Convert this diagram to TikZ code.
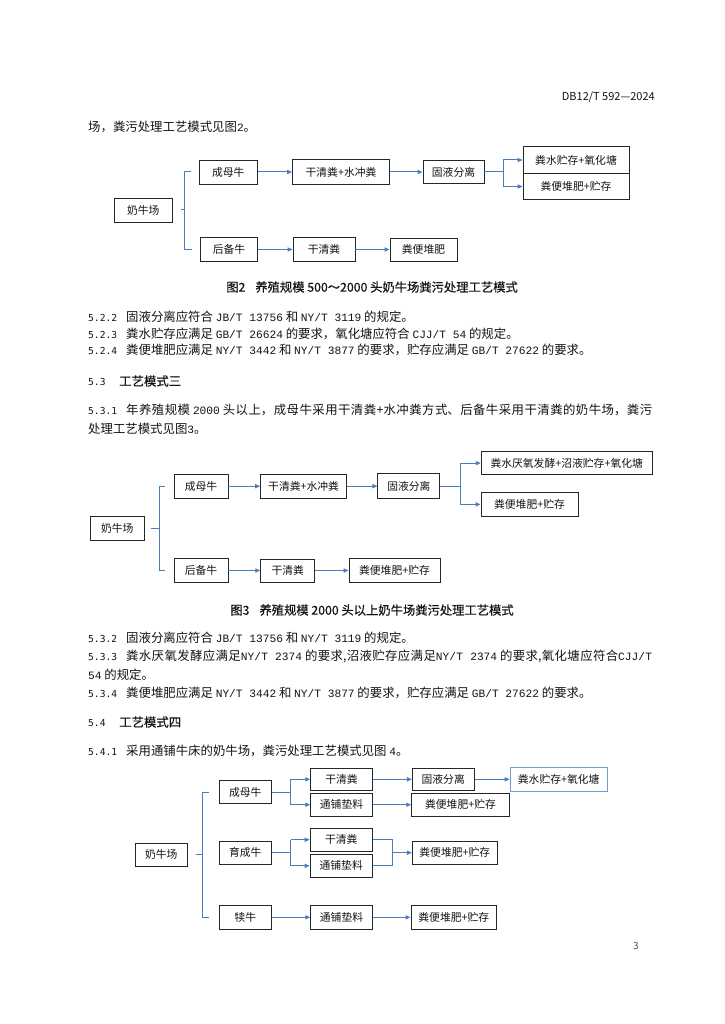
\documentclass[tikz,border=0pt]{standalone}
\usepackage{fontspec}
\setmainfont{Noto Sans CJK SC}
\newfontfamily\hei[FakeBold=0.4]{Noto Sans CJK SC}
\newfontfamily\latf{Liberation Mono}
\newfontfamily\secf{DejaVu Sans Mono}
\usetikzlibrary{arrows.meta}
\XeTeXlinebreaklocale "zh"
\XeTeXlinebreakskip=0pt plus 3pt minus 0.2pt
\definecolor{lnblue}{RGB}{74,126,187}
\definecolor{bxblue}{RGB}{112,156,212}
\definecolor{txt}{RGB}{20,20,20}
\tikzset{
 box/.style={draw=black!85, line width=0.9pt, inner sep=0pt, text=txt, font=\fontsize{10.8}{12}\selectfont},
 bl/.style={draw=lnblue, line width=1pt},
 arr/.style={bl, -{Triangle[length=5pt,width=4.2pt]}},
 body/.style={anchor=west, inner sep=0pt, text=txt, font=\fontsize{12.4}{15}\selectfont},
 captxt/.style={inner sep=0pt, text=txt, font=\hei\fontsize{12.3}{15}\selectfont},
}
\newcommand{\mkbox}[6]{\node[box, minimum width=#4pt, minimum height=#5pt] (#1) at (#2,#3) {#6};}
\newcommand{\secno}[2]{\makebox[#1pt][l]{\secf\fontsize{9.6}{14}\selectfont #2}}
\newcommand{\la}[1]{{\latf\fontsize{11.2}{14}\selectfont #1}}
\newcommand{\justline}[1]{\parbox{564pt}{\parindent=0pt\parfillskip=0pt\tolerance=10000\hbadness=10000 #1}}
\begin{document}
\begin{tikzpicture}[x=1pt,y=-1pt]
\useasboundingbox[fill=white] (0,0) rectangle (724,1024);

% header and text
\node[anchor=east, inner sep=0pt, text=txt, font=\fontsize{11}{13}\selectfont] (hdr) at (655,97) {DB12/T 592—2024};
\node[body] (t0) at (88,127) {场，粪污处理工艺模式见图\la{2}。};

% ---------------- Figure 2 ----------------
\mkbox{f2farm}{143.3}{210}{57.5}{24}{奶牛场}
\mkbox{f2a}{228.3}{172}{58.5}{24}{成母牛}
\mkbox{f2b}{341}{172}{97}{25}{干清粪+水冲粪}
\mkbox{f2c}{453.5}{172}{61}{23}{固液分离}
\mkbox{f2d}{576}{160}{106}{27}{粪水贮存+氧化塘}
\mkbox{f2e}{576}{186.5}{106}{26}{粪便堆肥+贮存}
\mkbox{f2g}{229}{249.5}{57}{24}{后备牛}
\mkbox{f2h}{324}{249.5}{62}{24}{干清粪}
\mkbox{f2i}{423.5}{249.5}{67}{23}{粪便堆肥}
\coordinate (b2x) at (184.8,0);
\draw[bl] ([xshift=8.3pt]f2farm.east) -- (b2x |- f2farm.east);
\draw[bl] ([xshift=-7.6pt]f2a.west) -- (b2x |- f2a.west) -- (b2x |- f2g.west) -- ([xshift=-7.6pt]f2g.west);
\draw[arr] (f2a.east) -- (f2b.west);
\draw[arr] (f2b.east) -- (f2c.west);
\coordinate (k2) at (503.3,172);
\draw[bl] (f2c.east) -- (k2);
\draw[bl] (k2 |- f2d.west) -- (k2 |- f2e.west);
\draw[arr] (k2 |- f2d.west) -- (f2d.west);
\draw[arr] (k2 |- f2e.west) -- (f2e.west);
\draw[arr] (f2g.east) -- (f2h.west);
\draw[arr] (f2h.east) -- (f2i.west);

\node[captxt] (c2) at (372,287) {图2\hspace{10pt}养殖规模 500～2000 头奶牛场粪污处理工艺模式};

\node[body] (t1) at (88,317) {\secno{38}{5.2.2}固液分离应符合 \la{JB/T 13756} 和 \la{NY/T 3119} 的规定。};
\node[body] (t2) at (88,334) {\secno{38}{5.2.3}粪水贮存应满足 \la{GB/T 26624} 的要求，氧化塘应符合 \la{CJJ/T 54} 的规定。};
\node[body] (t3) at (88,350) {\secno{38}{5.2.4}粪便堆肥应满足 \la{NY/T 3442} 和 \la{NY/T 3877} 的要求，贮存应满足 \la{GB/T 27622} 的要求。};
\node[body, font=\hei\fontsize{12.4}{15}\selectfont] (t4) at (88,381) {\secno{31}{5.3}工艺模式三};
\node[body] (t5) at (88,410) {\justline{\secno{38}{5.3.1}年养殖规模 \la{2000} 头以上，成母牛采用干清粪+水冲粪方式、后备牛采用干清粪的奶牛场，粪污}};
\node[body] (t6) at (88,429) {处理工艺模式见图\la{3}。};

% ---------------- Figure 3 ----------------
\mkbox{f3farm}{117.2}{528}{54}{24}{奶牛场}
\mkbox{f3a}{201}{486.2}{54}{24.5}{成母牛}
\mkbox{f3b}{303.6}{486.2}{86}{24.5}{干清粪+水冲粪}
\mkbox{f3c}{408.9}{486.2}{62}{25}{固液分离}
\mkbox{f3d}{566.7}{463.1}{171}{23}{粪水厌氧发酵+沼液贮存+氧化塘}
\mkbox{f3e}{529.5}{504.4}{97}{23.3}{粪便堆肥+贮存}
\mkbox{f3g}{201}{570.5}{54}{24}{后备牛}
\mkbox{f3h}{287.7}{570.5}{54}{23}{干清粪}
\mkbox{f3i}{394.5}{570.5}{91}{23.5}{粪便堆肥+贮存}
\coordinate (b3x) at (159,0);
\draw[bl] ([xshift=6.5pt]f3farm.east) -- (b3x |- f3farm.east);
\draw[bl] ([xshift=-9pt]f3a.west) -- (b3x |- f3a.west) -- (b3x |- f3g.west) -- ([xshift=-9pt]f3g.west);
\draw[arr] (f3a.east) -- (f3b.west);
\draw[arr] (f3b.east) -- (f3c.west);
\coordinate (k3) at (460,486.2);
\draw[bl] (f3c.east) -- (k3);
\draw[bl] (k3 |- f3d.west) -- (k3 |- f3e.west);
\draw[arr] (k3 |- f3d.west) -- (f3d.west);
\draw[arr] (k3 |- f3e.west) -- (f3e.west);
\draw[arr] (f3g.east) -- (f3h.west);
\draw[arr] (f3h.east) -- (f3i.west);

\node[captxt] (c3) at (372,610) {图3\hspace{10pt}养殖规模 2000 头以上奶牛场粪污处理工艺模式};

\node[body] (t7) at (88,638) {\secno{38}{5.3.2}固液分离应符合 \la{JB/T 13756} 和 \la{NY/T 3119} 的规定。};
\node[body] (t8) at (88,656.5) {\justline{\secno{38}{5.3.3}粪水厌氧发酵应满足\la{NY/T 2374} 的要求,沼液贮存应满足\la{NY/T 2374} 的要求,氧化塘应符合\la{CJJ/T}}};
\node[body] (t9) at (88,675) {\la{54} 的规定。};
\node[body] (t10) at (88,693) {\secno{38}{5.3.4}粪便堆肥应满足 \la{NY/T 3442} 和 \la{NY/T 3877} 的要求，贮存应满足 \la{GB/T 27622} 的要求。};
\node[body, font=\hei\fontsize{12.4}{15}\selectfont] (t11) at (88,722) {\secno{31}{5.4}工艺模式四};
\node[body] (t12) at (88,751) {\secno{38}{5.4.1}采用通铺牛床的奶牛场，粪污处理工艺模式见图 \la{4}。};

% ---------------- Figure 4 ----------------
\mkbox{f4farm}{161.3}{854.7}{52.7}{23}{奶牛场}
\mkbox{f4a}{245.3}{792}{52.7}{22.6}{成母牛}
\mkbox{f4b}{341.5}{779.3}{61.6}{22.7}{干清粪}
\mkbox{f4c}{341.5}{804.7}{61.6}{22.7}{通铺垫料}
\mkbox{f4d}{443.2}{779.3}{61.7}{22.7}{固液分离}
\node[box, draw=bxblue, minimum width=97.3pt, minimum height=23.4pt] (f4e) at (558.7,779.3) {粪水贮存+氧化塘};
\mkbox{f4f}{460.5}{804.7}{97.6}{22.7}{粪便堆肥+贮存}
\mkbox{f4g}{245.3}{852.7}{52.7}{23}{育成牛}
\mkbox{f4h}{341.2}{839.7}{62.3}{22.7}{干清粪}
\mkbox{f4i}{341.2}{865.8}{62.3}{23}{通铺垫料}
\mkbox{f4j}{454.8}{852.7}{85}{23.3}{粪便堆肥+贮存}
\mkbox{f4k}{245.3}{917.3}{52.7}{23.3}{犊牛}
\mkbox{f4l}{341.5}{917.3}{61.6}{23.3}{通铺垫料}
\mkbox{f4m}{453.8}{917.3}{85.7}{23.3}{粪便堆肥+贮存}
\coordinate (b4x) at (202.3,0);
\draw[bl] ([xshift=8.3pt]f4farm.east) -- (b4x |- f4farm.east);
\draw[bl] ([xshift=-10pt]f4a.west) -- (b4x |- f4a.west) -- (b4x |- f4k.west) -- ([xshift=-10pt]f4k.west);
% 成母牛 fork
\coordinate (k4a) at (290.7,792);
\draw[bl] (f4a.east) -- (k4a);
\draw[bl] (k4a |- f4b.west) -- (k4a |- f4c.west);
\draw[arr] (k4a |- f4b.west) -- (f4b.west);
\draw[arr] (k4a |- f4c.west) -- (f4c.west);
\draw[arr] (f4b.east) -- (f4d.west);
\draw[arr] (f4d.east) -- (f4e.west);
\draw[arr] (f4c.east) -- (f4f.west);
% 育成牛 fork
\coordinate (k4b) at (290.7,852.7);
\draw[bl] (f4g.east) -- (k4b);
\draw[bl] (k4b |- f4h.west) -- (k4b |- f4i.west);
\draw[arr] (k4b |- f4h.west) -- (f4h.west);
\draw[arr] (k4b |- f4i.west) -- (f4i.west);
\coordinate (m4) at (392.7,852.7);
\draw[bl] (f4h.east) -- (m4 |- f4h.east) -- (m4 |- f4i.east) -- (f4i.east);
\draw[arr] (m4) -- (f4j.west);
% 犊牛
\draw[arr] (f4k.east) -- (f4l.west);
\draw[arr] (f4l.east) -- (f4m.west);

\node[inner sep=0pt, text=black!70, font=\fontsize{10}{12}\selectfont] (pg) at (636,946) {3};
\end{tikzpicture}
\end{document}
